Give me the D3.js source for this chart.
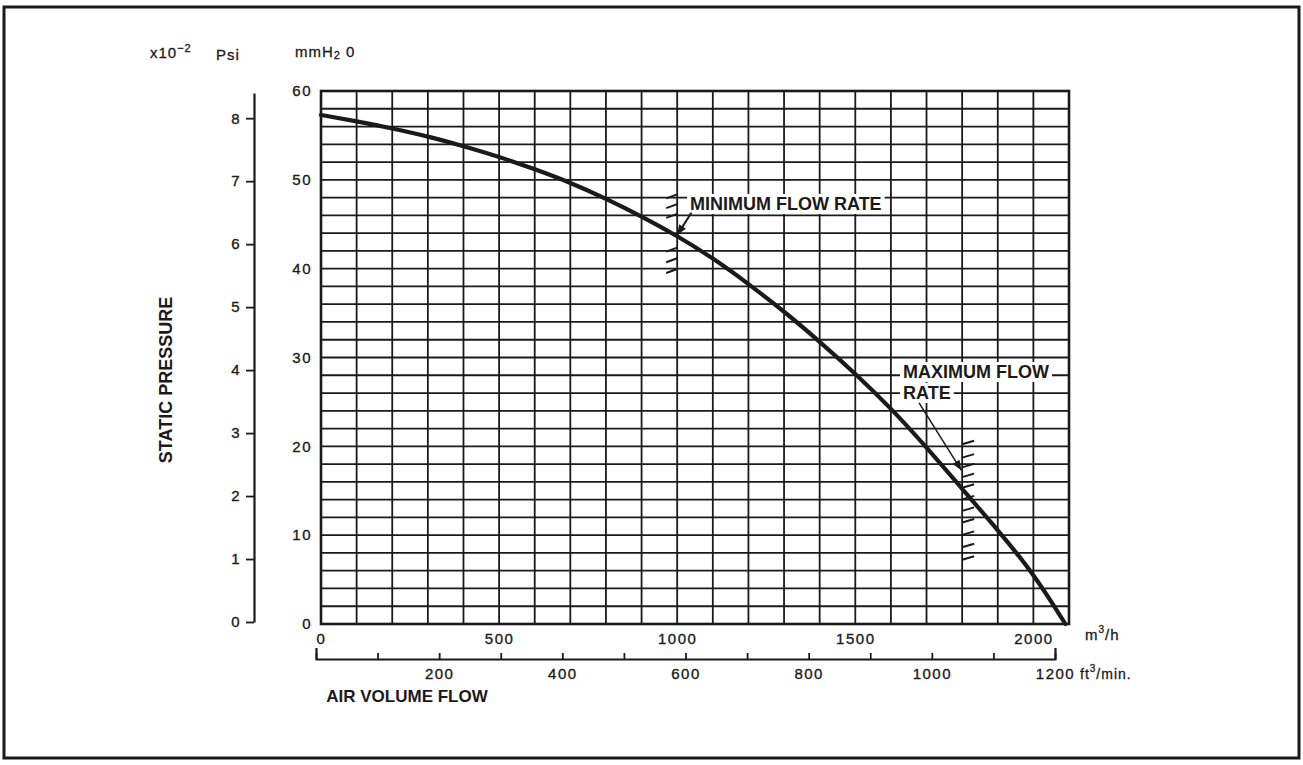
<!DOCTYPE html>
<html>
<head>
<meta charset="utf-8">
<script src="https://cdn.jsdelivr.net/npm/d3@7"></script>
<style>
  body { margin: 0; background: #fff; }
  svg { display: block; font-family: "Liberation Sans", Arial, sans-serif; }
</style>
</head>
<body>
<svg id="chart" width="1303" height="765"></svg>
<script>
// fan curve: air flow (m3/h) against static pressure (mmH2O)
const flow = [0, 100, 200, 300, 400, 500, 600, 700, 800, 900, 1000, 1100, 1200, 1300, 1400, 1500, 1600, 1700, 1800, 1900, 2000, 2090];
const pressure = [57.3, 56.6, 55.8, 54.9, 53.8, 52.6, 51.2, 49.7, 47.9, 45.9, 43.7, 41.2, 38.3, 35.2, 31.8, 28.2, 24.3, 19.9, 15.2, 10.6, 5.7, 0];

const flowTicks = [0, 500, 1000, 1500, 2000];
const mmTicks = [0, 10, 20, 30, 40, 50, 60];
const psiTicks = [0, 1, 2, 3, 4, 5, 6, 7, 8];
const cfmTicks = [0, 100, 200, 300, 400, 500, 600, 700, 800, 900, 1000, 1100, 1200];
const cfmLabels = [200, 400, 600, 800, 1000, 1200];

// flow limits: hatch marks (mmH2O) and arrows [from, to] as [m3/h, mmH2O]
const minFlow = 1000;
const minHatch = [48.2, 47.1, 46.0, 42.2, 41.0, 39.8];
const minArrow = [[1040, 46.3], [1000, 43.8]];
const maxFlow = 1800;
const maxHatch = [20.4, 18.9, 17.8, 16.7, 15.5, 14.2, 12.9, 11.6, 10.2, 8.8, 7.4];
const maxArrow = [[1679, 24.9], [1798, 17.3]];

const ink = '#1a1a1a';
const svg = d3.select('#chart');

svg.append('rect')
  .attr('x', 4).attr('y', 7)
  .attr('width', 1295).attr('height', 751)
  .attr('fill', 'none').attr('stroke', ink).attr('stroke-width', 3);

const x = d3.scaleLinear().domain([0, 2100]).range([321, 1069]);
const y = d3.scaleLinear().domain([0, 60]).range([624, 91]);
const psi = d3.scaleLinear().domain([0, 8.4]).range([622, 93]);
const cfm = d3.scaleLinear().domain([0, 1200]).range([316, 1055]);

// grid
const grid = svg.append('g').attr('stroke', ink).attr('stroke-width', 1.8);
grid.selectAll('.v')
  .data(d3.range(0, 2101, 100))
  .join('line')
    .attr('class', 'v')
    .attr('x1', d => x(d)).attr('x2', d => x(d))
    .attr('y1', y(0)).attr('y2', y(60));
grid.selectAll('.h')
  .data(d3.range(0, 61, 2))
  .join('line')
    .attr('class', 'h')
    .attr('x1', x(0)).attr('x2', x(2100))
    .attr('y1', d => y(d)).attr('y2', d => y(d));
svg.append('rect')
  .attr('x', x(0)).attr('y', y(60))
  .attr('width', x(2100) - x(0)).attr('height', y(0) - y(60))
  .attr('fill', 'none').attr('stroke', ink).attr('stroke-width', 2.6);

function styleAxis(g) {
  g.selectAll('text')
    .attr('font-size', 15)
    .attr('fill', ink)
    .attr('stroke', ink)
    .attr('stroke-width', 0.35)
    .attr('letter-spacing', 1.5)
    .attr('font-family', '"Liberation Sans", Arial, sans-serif');
  g.selectAll('line').attr('stroke', ink).attr('stroke-width', 1.8);
  g.select('.domain').attr('stroke', ink).attr('stroke-width', 2.2);
}

// psi axis (x10^-2)
svg.append('g')
  .attr('transform', 'translate(254,0)')
  .call(d3.axisLeft(psi).tickValues(psiTicks).tickSize(8).tickSizeOuter(0).tickPadding(5))
  .call(styleAxis);

// mmH2O labels
svg.append('g')
  .attr('transform', `translate(${x(0)},0)`)
  .call(d3.axisLeft(y).tickValues(mmTicks).tickSize(0).tickPadding(9).tickFormat(d => d))
  .call(styleAxis)
  .call(g => g.select('.domain').remove());

// m3/h labels
svg.append('g')
  .attr('transform', `translate(0,${y(0)})`)
  .call(d3.axisBottom(x).tickValues(flowTicks).tickSize(0).tickPadding(9).tickFormat(d => d))
  .call(styleAxis)
  .call(g => g.select('.domain').remove());

// ft3/min axis
svg.append('g')
  .attr('transform', 'translate(0,659)')
  .call(d3.axisBottom(cfm)
    .tickValues(cfmTicks)
    .tickSizeInner(-6)
    .tickSizeOuter(-11)
    .tickPadding(9)
    .tickFormat(d => cfmLabels.includes(d) ? d : ''))
  .call(styleAxis);

// label boxes
function label(lines, x0, y0, lh) {
  const g = svg.append('g');
  lines.forEach((s, i) => {
    const t = g.append('text')
      .attr('x', x0).attr('y', y0 + i * lh)
      .attr('font-size', 18).attr('font-weight', 'bold').attr('fill', ink)
      .text(s);
    const b = t.node().getBBox();
    g.insert('rect', 'text')
      .attr('x', b.x - 3).attr('y', b.y)
      .attr('width', b.width + 6).attr('height', b.height)
      .attr('fill', '#fff');
  });
}
label(['MINIMUM FLOW RATE'], 690, 210, 0);
label(['MAXIMUM FLOW', 'RATE'], 903, 378, 21);

// hatch marks
svg.append('g').attr('stroke', ink).attr('stroke-width', 2)
  .selectAll('line')
  .data(minHatch)
  .join('line')
    .attr('x1', x(minFlow) - 11).attr('y1', d => y(d) + 2.5)
    .attr('x2', x(minFlow)).attr('y2', d => y(d) - 1.5);
svg.append('g').attr('stroke', ink).attr('stroke-width', 2)
  .selectAll('line')
  .data(maxHatch)
  .join('line')
    .attr('x1', x(maxFlow)).attr('y1', d => y(d) + 1.5)
    .attr('x2', x(maxFlow) + 12).attr('y2', d => y(d) - 2);

// curve
const line = d3.line()
  .x(d => x(d[0]))
  .y(d => y(d[1]))
  .curve(d3.curveBasis);
svg.append('path')
  .datum(d3.zip(flow, pressure))
  .attr('d', line)
  .attr('fill', 'none')
  .attr('stroke', ink)
  .attr('stroke-width', 4.2)
  .attr('stroke-linecap', 'round');

// arrows
svg.append('defs').append('marker')
  .attr('id', 'head')
  .attr('viewBox', '0 0 10 8')
  .attr('refX', 10).attr('refY', 4)
  .attr('markerWidth', 11).attr('markerHeight', 8)
  .attr('markerUnits', 'userSpaceOnUse')
  .attr('orient', 'auto')
  .append('path').attr('d', 'M0,0L10,4L0,8Z').attr('fill', ink);
[[minArrow, 2], [maxArrow, 1.5]].forEach(([a, w]) => {
  svg.append('line')
    .attr('x1', x(a[0][0])).attr('y1', y(a[0][1]))
    .attr('x2', x(a[1][0])).attr('y2', y(a[1][1]))
    .attr('stroke', ink).attr('stroke-width', w)
    .attr('marker-end', 'url(#head)');
});

// unit labels
const unit = svg.append('g').attr('font-size', 15).attr('fill', ink)
  .attr('stroke', ink).attr('stroke-width', 0.3).attr('letter-spacing', 1);
const sci = unit.append('text').attr('x', 150).attr('y', 58);
sci.append('tspan').text('x10');
sci.append('tspan').attr('font-size', 11).attr('dy', -6).text('−2');
unit.append('text').attr('x', 216).attr('y', 60).text('Psi');
const mm = unit.append('text').attr('x', 295).attr('y', 57);
mm.append('tspan').text('mmH');
mm.append('tspan').attr('font-size', 11).attr('dy', 2).text('2');
mm.append('tspan').attr('dy', -2).text(' 0');
const m3 = unit.append('text').attr('x', 1085).attr('y', 640);
m3.append('tspan').text('m');
m3.append('tspan').attr('font-size', 10).attr('dy', -7).text('3');
m3.append('tspan').attr('dy', 7).text('/h');
const ft = unit.append('text').attr('x', 1080).attr('y', 679).attr('font-size', 14);
ft.append('tspan').text('ft');
ft.append('tspan').attr('font-size', 10).attr('dy', -7).text('3');
ft.append('tspan').attr('dy', 7).text('/min.');

// axis titles
svg.append('text')
  .attr('transform', 'translate(172,380) rotate(-90)')
  .attr('text-anchor', 'middle')
  .attr('font-size', 18).attr('font-weight', 'bold').attr('fill', ink)
  .text('STATIC PRESSURE');
svg.append('text')
  .attr('x', 407).attr('y', 702)
  .attr('text-anchor', 'middle')
  .attr('font-size', 17).attr('font-weight', 'bold').attr('fill', ink)
  .text('AIR VOLUME FLOW');
</script>
</body>
</html>
